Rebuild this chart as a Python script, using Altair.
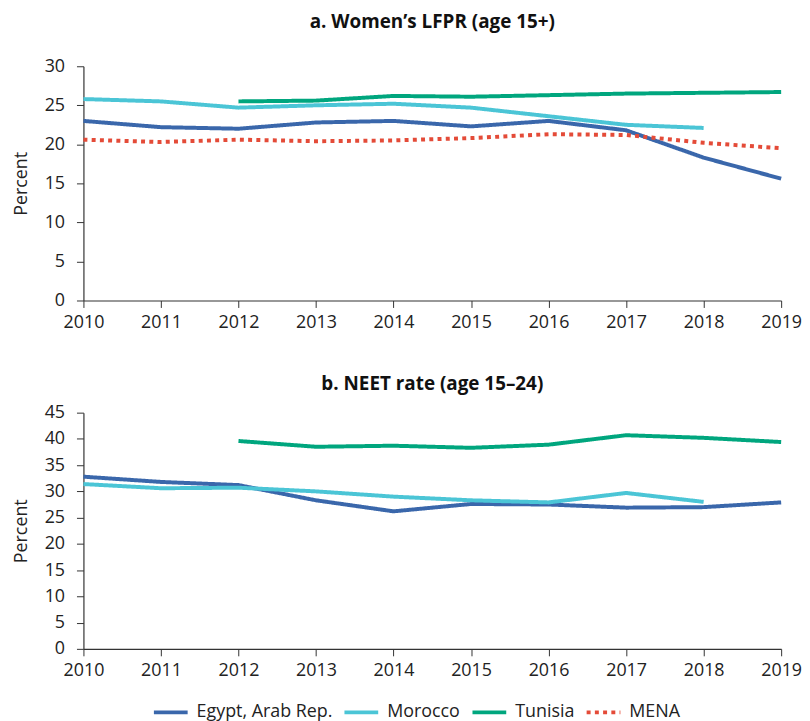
import altair as alt
import pandas as pd

years = list(range(2010, 2020))
series = ["Egypt, Arab Rep.", "Morocco", "Tunisia", "MENA"]
colors = ["#3a67ab", "#4bc5d6", "#00a67e", "#e44b38"]

# a. Women's LFPR (age 15+)
lfpr_egypt = [23.0, 22.2, 22.0, 22.8, 23.0, 22.3, 23.0, 21.8, 18.3, 15.6]
lfpr_morocco = [25.8, 25.5, 24.7, 25.0, 25.2, 24.7, 23.6, 22.5, 22.1, None]
lfpr_tunisia = [None, None, 25.5, 25.6, 26.2, 26.1, 26.3, 26.5, 26.6, 26.7]
lfpr_mena = [20.6, 20.3, 20.6, 20.4, 20.5, 20.8, 21.3, 21.2, 20.2, 19.5]

# b. NEET rate (age 15-24)
neet_egypt = [32.8, 31.8, 31.2, 28.3, 26.2, 27.6, 27.5, 26.9, 27.0, 27.9]
neet_morocco = [31.4, 30.6, 30.7, 30.0, 29.0, 28.3, 27.9, 29.7, 28.0, None]
neet_tunisia = [None, None, 39.6, 38.5, 38.7, 38.3, 38.9, 40.7, 40.2, 39.4]

lfpr_ticks = [0, 5, 10, 15, 20, 25, 30]
neet_ticks = [0, 5, 10, 15, 20, 25, 30, 35, 40, 45]


def long(named):
    rows = []
    for name, vals in named:
        for y, v in zip(years, vals):
            if v is not None:
                rows.append({"year": y, "series": name, "value": v})
    return pd.DataFrame(rows)


df_a = long([(series[0], lfpr_egypt), (series[1], lfpr_morocco),
             (series[2], lfpr_tunisia), (series[3], lfpr_mena)])
df_b = long([(series[0], neet_egypt), (series[1], neet_morocco),
             (series[2], neet_tunisia)])

FONT = "Open Sans"

legend = alt.Legend(title=None, orient="none", direction="horizontal",
                    legendX=69, legendY=632)


def panel(df, title, ymax, yticks, toffset, h):
    return alt.Chart(
        df,
        title=alt.Title(title, fontSize=19, fontWeight="bold", font=FONT,
                        anchor="middle", offset=toffset, color="#111"),
    ).mark_line(strokeWidth=4).encode(
        x=alt.X("year:Q",
                scale=alt.Scale(domain=[2010, 2019], nice=False, zero=False),
                axis=alt.Axis(values=years, format="d", title=None,
                              labelFlush=False, labelOverlap=False)),
        y=alt.Y("value:Q", scale=alt.Scale(domain=[0, ymax], nice=False),
                axis=alt.Axis(values=yticks, title="Percent")),
        color=alt.Color("series:N",
                        scale=alt.Scale(domain=series, range=colors),
                        legend=legend),
        strokeDash=alt.StrokeDash("series:N",
                                  scale=alt.Scale(domain=series,
                                                  range=[[1, 0], [1, 0], [1, 0], [4, 4.3]]),
                                  legend=legend),
    ).properties(width=703, height=h)


top = panel(df_a, "a. Women\u2019s LFPR (age 15+)", 30, lfpr_ticks, 26, 236)
bottom = panel(df_b, "b. NEET rate (age 15\u201324)", 45, neet_ticks, 10, 238)

chart = alt.vconcat(top, bottom, spacing=44).properties(
    padding={"left": 4, "top": 2, "right": 0, "bottom": 0}
).configure_view(stroke=None).configure_axis(
    grid=False,
    labelFont=FONT, labelFontSize=18, labelColor="#222",
    titleFont=FONT, titleFontSize=18, titleFontWeight="normal", titleColor="#222",
    domainColor="#333", tickColor="#333", tickSize=7, domainWidth=1.2,
    labelPadding=6,
).configure_axisY(titlePadding=14, labelPadding=12).configure_legend(
    symbolType="stroke",
    symbolSize=1156, symbolStrokeWidth=4, labelFont=FONT, labelFontSize=18,
    labelColor="#222", columnPadding=4, labelOffset=7,
)

chart.save("out.html", embed_options={"renderer": "svg", "actions": False})
